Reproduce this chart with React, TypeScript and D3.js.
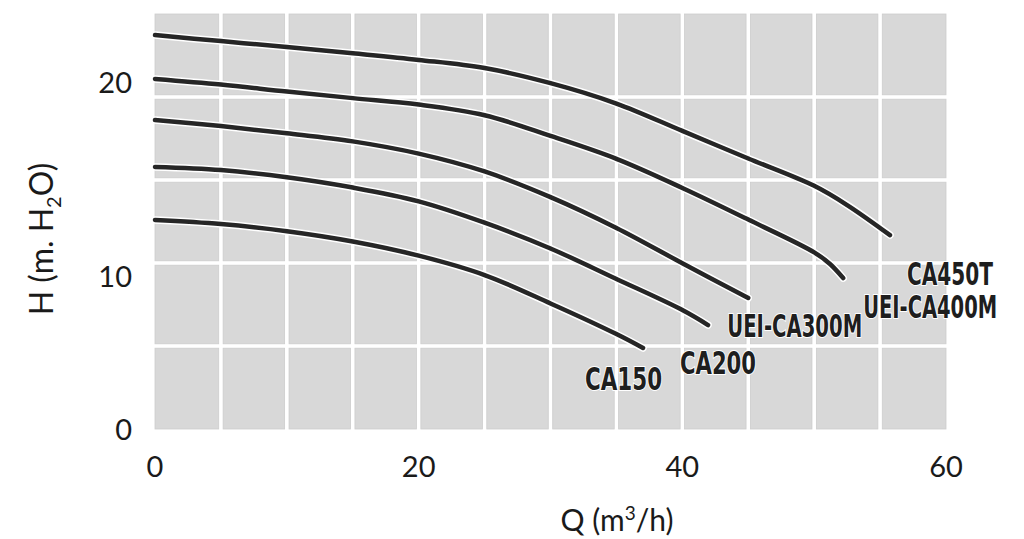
import React from "react";
import * as d3 from "d3";

// ---- data ----
const seriesNames = ["CA450T", "UEI-CA400M", "UEI-CA300M", "CA200", "CA150"];

const qCA450T = [0, 5, 10, 15, 20, 25, 30, 35, 40, 45, 50, 52.5, 55.75];
const hCA450T = [22.47, 22.16, 21.85, 21.53, 21.19, 20.77, 19.99, 18.94, 17.53, 16.11, 14.7, 13.71, 12.16];

const qCA400M = [0, 5, 10, 15, 20, 25, 30, 35, 40, 45, 50, 51.2, 52.2];
const hCA400M = [20.21, 19.92, 19.56, 19.22, 18.89, 18.34, 17.27, 16.09, 14.59, 12.96, 11.27, 10.67, 9.93];

const qCA300M = [0, 5, 10, 15, 20, 25, 30, 35, 40, 45];
const hCA300M = [18.09, 17.78, 17.41, 16.99, 16.36, 15.44, 14.12, 12.53, 10.71, 8.63];

const qCA200 = [0, 5, 10, 15, 20, 25, 30, 35, 40, 41.95];
const hCA200 = [15.67, 15.51, 15.14, 14.61, 13.9, 12.8, 11.47, 9.87, 7.84, 6.86];

const qCA150 = [0, 5, 10, 15, 20, 25, 30, 35, 37.02];
const hCA150 = [12.94, 12.73, 12.36, 11.83, 11.1, 10.1, 8.27, 6.27, 5.36];

const xTicks = [0, 20, 40, 60];
const yTicks = [0, 10, 20];
const xTitle = "Q (m";
const yTitle = "H (m. H";

const seriesQ = [qCA450T, qCA400M, qCA300M, qCA200, qCA150];
const seriesH = [hCA450T, hCA400M, hCA300M, hCA200, hCA150];

// label placement (pixel offsets from each curve's end point) and fitted widths
const labelStyle = [
  { dx: 17, dy: 50, w: 86 },
  { dx: 20, dy: 40, w: 134 },
  { dx: -21, dy: 39, w: 135 },
  { dx: -28, dy: 49, w: 76 },
  { dx: -58, dy: 42, w: 77 },
];

export default function App() {
  const W = 1024;
  const H = 539;
  const left = 155;
  const right = 946;
  const top = 14;
  const bottom = 429;

  const x = d3.scaleLinear().domain([0, 60]).range([left, right]);
  // the printed axis is not evenly spaced; use a piecewise-linear scale through its ticks
  const y = d3.scaleLinear().domain([0, 10, 20]).range([430, 277, 83]);

  const colEdges = d3.range(0, 61, 5).map((v) => x(v));
  const rowScale = d3.scaleLinear().domain([0, 5]).range([top, bottom]);
  const rowEdges = d3.range(0, 6).map((i) => rowScale(i));
  const gap = 2.2;

  const tiles: { x: number; y: number; w: number; h: number }[] = [];
  for (let c = 0; c < colEdges.length - 1; c++) {
    for (let r = 0; r < rowEdges.length - 1; r++) {
      const x0 = c === 0 ? colEdges[c] : colEdges[c] + gap;
      const x1 = c === colEdges.length - 2 ? colEdges[c + 1] : colEdges[c + 1] - gap;
      const y0 = r === 0 ? rowEdges[r] : rowEdges[r] + gap;
      const y1 = r === rowEdges.length - 2 ? rowEdges[r + 1] : rowEdges[r + 1] - gap;
      tiles.push({ x: x0, y: y0, w: x1 - x0, h: y1 - y0 });
    }
  }

  const line = d3
    .line<[number, number]>()
    .x((d) => x(d[0]))
    .y((d) => y(d[1]))
    .curve(d3.curveCatmullRom.alpha(0.5));

  const series = seriesNames.map((name, i) => {
    const pts = seriesQ[i].map((q, j) => [q, seriesH[i][j]] as [number, number]);
    return { name, pts };
  });

  const tickFont = "Lato, 'Open Sans', sans-serif";
  const labelFont = "'Liberation Sans Narrow', 'DejaVu Sans Condensed', 'Roboto Condensed', sans-serif";

  return (
    <svg width={W} height={H} style={{ position: "absolute", left: 0, top: 0, background: "#fff" }}>
      <rect x={0} y={0} width={W} height={H} fill="#fff" />
      <g>
        {tiles.map((t, i) => (
          <rect key={i} x={t.x} y={t.y} width={t.w} height={t.h} fill="#d8d8d8" stroke="#cdcdcd" strokeWidth={0.8} />
        ))}
      </g>
      <g>
        {series.map((s) => (
          <path key={s.name + "h"} d={line(s.pts) || ""} fill="none" stroke="#ffffff" strokeWidth={7.5} strokeLinecap="round" />
        ))}
        {series.map((s) => (
          <path key={s.name} d={line(s.pts) || ""} fill="none" stroke="#262626" strokeWidth={4.5} strokeLinecap="round" />
        ))}
      </g>
      <g>
        {series.map((s, i) => {
          const end = s.pts[s.pts.length - 1];
          const st = labelStyle[i];
          return (
            <text
              key={s.name + "l"}
              x={x(end[0]) + st.dx}
              y={y(end[1]) + st.dy}
              fontFamily={labelFont}
              fontWeight="bold"
              fontSize={32}
              fill="#1e1e1e"
              stroke="#ffffff"
              strokeWidth={2}
              paintOrder="stroke"
              textLength={st.w}
              lengthAdjust="spacingAndGlyphs"
            >
              {s.name}
            </text>
          );
        })}
      </g>
      <g fontFamily={tickFont} fontSize={29} fill="#1a1a1a">
        {xTicks.map((t) => (
          <text key={"x" + t} x={x(t)} y={477} textAnchor="middle">
            {t}
          </text>
        ))}
        {yTicks.map((t) => (
          <text key={"y" + t} x={132} y={y(t)} dy="0.36em" textAnchor="end">
            {t}
          </text>
        ))}
      </g>
      <text x={617} y={531} textAnchor="middle" fontFamily={tickFont} fontSize={30} fill="#1a1a1a">
        {xTitle}
        <tspan dy={-11} fontSize={19}>3</tspan>
        <tspan dy={11}>/h)</tspan>
      </text>
      <text
        transform={`translate(53, ${239}) rotate(-90)`}
        textAnchor="middle"
        fontFamily={tickFont}
        fontSize={32}
        fill="#1a1a1a"
      >
        {yTitle}
        <tspan dy={8} fontSize={20}>2</tspan>
        <tspan dy={-8}>O)</tspan>
      </text>
    </svg>
  );
}
